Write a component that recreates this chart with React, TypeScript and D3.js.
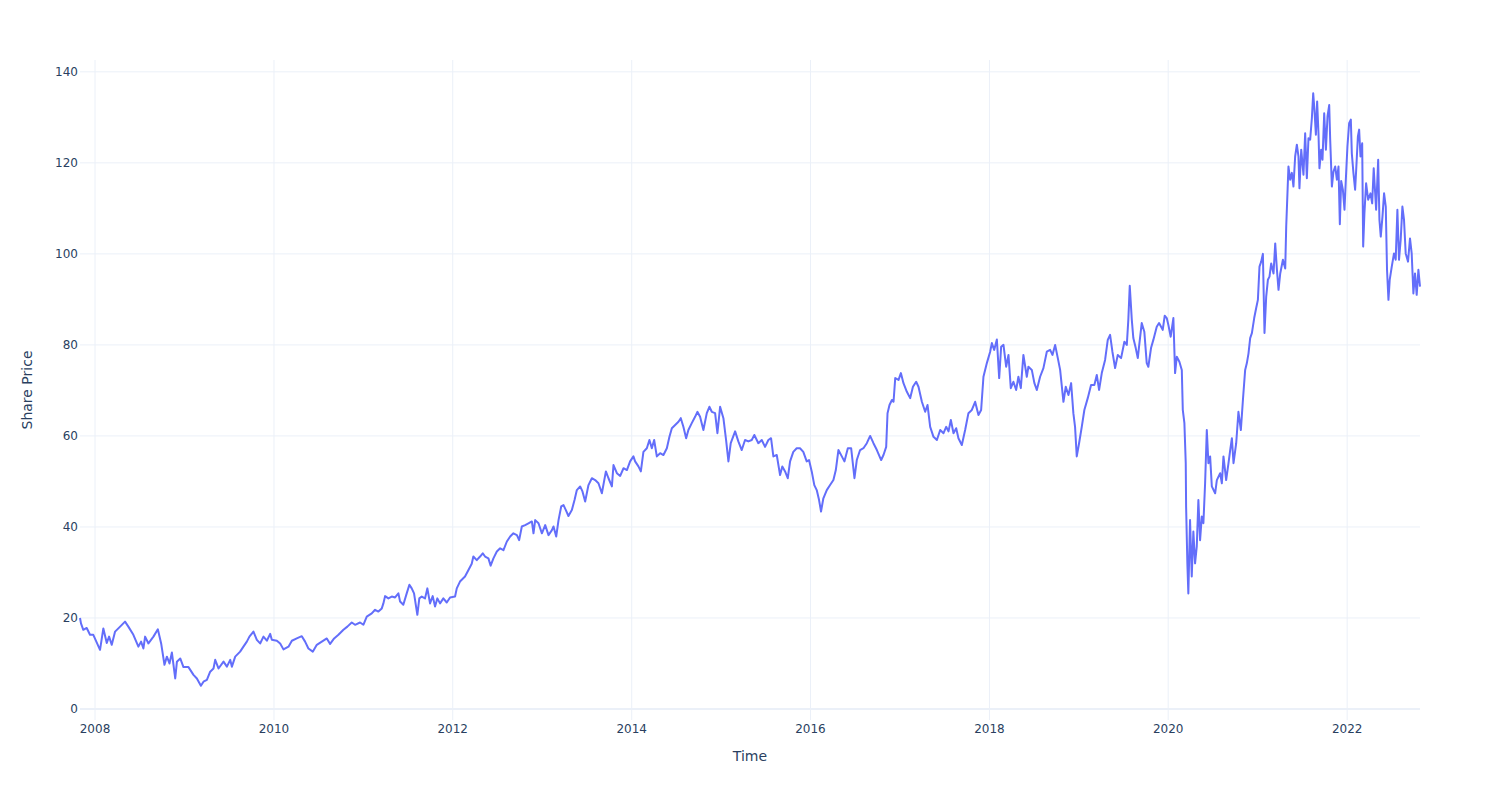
import React from 'react';
import * as d3 from 'd3';

// Time (decimal years)
const years: number[] = [
  2007.832, 2007.843, 2007.869, 2007.907, 2007.944, 2007.981, 2008.056, 2008.093, 2008.131, 2008.157,
  2008.187, 2008.224, 2008.280, 2008.335, 2008.372, 2008.428, 2008.484, 2008.514, 2008.540, 2008.559,
  2008.596, 2008.652, 2008.701, 2008.738, 2008.775, 2008.802, 2008.831, 2008.858, 2008.895, 2008.914,
  2008.951, 2008.987, 2009.043, 2009.099, 2009.137, 2009.182, 2009.211, 2009.249, 2009.286, 2009.323,
  2009.342, 2009.379, 2009.435, 2009.473, 2009.510, 2009.529, 2009.566, 2009.621, 2009.658, 2009.696,
  2009.725, 2009.770, 2009.808, 2009.845, 2009.882, 2009.920, 2009.957, 2009.976, 2010.032, 2010.069,
  2010.106, 2010.162, 2010.200, 2010.255, 2010.311, 2010.348, 2010.385, 2010.434, 2010.479, 2010.535,
  2010.591, 2010.628, 2010.673, 2010.721, 2010.777, 2010.821, 2010.870, 2010.907, 2010.963, 2011.000,
  2011.038, 2011.094, 2011.131, 2011.168, 2011.206, 2011.224, 2011.243, 2011.280, 2011.318, 2011.355,
  2011.392, 2011.411, 2011.447, 2011.485, 2011.515, 2011.541, 2011.567, 2011.604, 2011.626, 2011.653,
  2011.690, 2011.716, 2011.746, 2011.776, 2011.802, 2011.828, 2011.858, 2011.895, 2011.933, 2011.970,
  2012.026, 2012.045, 2012.081, 2012.137, 2012.174, 2012.212, 2012.230, 2012.268, 2012.305, 2012.335,
  2012.361, 2012.398, 2012.423, 2012.454, 2012.492, 2012.529, 2012.566, 2012.604, 2012.641, 2012.677,
  2012.716, 2012.741, 2012.771, 2012.808, 2012.845, 2012.883, 2012.901, 2012.920, 2012.957, 2012.995,
  2013.032, 2013.069, 2013.107, 2013.125, 2013.155, 2013.181, 2013.211, 2013.237, 2013.263, 2013.292,
  2013.330, 2013.360, 2013.386, 2013.423, 2013.449, 2013.479, 2013.516, 2013.554, 2013.591, 2013.628,
  2013.666, 2013.711, 2013.740, 2013.778, 2013.796, 2013.834, 2013.871, 2013.908, 2013.946, 2013.982,
  2014.019, 2014.038, 2014.075, 2014.102, 2014.131, 2014.169, 2014.198, 2014.225, 2014.251, 2014.281,
  2014.318, 2014.355, 2014.393, 2014.422, 2014.449, 2014.486, 2014.523, 2014.549, 2014.578, 2014.609,
  2014.634, 2014.672, 2014.709, 2014.735, 2014.765, 2014.802, 2014.840, 2014.869, 2014.896, 2014.933,
  2014.959, 2014.989, 2015.026, 2015.056, 2015.082, 2015.108, 2015.157, 2015.193, 2015.231, 2015.268,
  2015.305, 2015.343, 2015.372, 2015.417, 2015.455, 2015.492, 2015.529, 2015.559, 2015.585, 2015.623,
  2015.660, 2015.685, 2015.716, 2015.746, 2015.772, 2015.808, 2015.846, 2015.883, 2015.920, 2015.958,
  2015.984, 2016.014, 2016.043, 2016.070, 2016.096, 2016.118, 2016.144, 2016.182, 2016.219, 2016.256,
  2016.283, 2016.312, 2016.350, 2016.379, 2016.417, 2016.454, 2016.491, 2016.517, 2016.554, 2016.591,
  2016.629, 2016.666, 2016.703, 2016.741, 2016.789, 2016.815, 2016.845, 2016.860, 2016.882, 2016.909,
  2016.927, 2016.946, 2016.983, 2017.009, 2017.038, 2017.076, 2017.113, 2017.144, 2017.180, 2017.206,
  2017.244, 2017.281, 2017.307, 2017.337, 2017.374, 2017.412, 2017.449, 2017.486, 2017.516, 2017.542,
  2017.568, 2017.598, 2017.628, 2017.653, 2017.691, 2017.728, 2017.765, 2017.803, 2017.840, 2017.877,
  2017.907, 2017.933, 2017.971, 2018.008, 2018.027, 2018.053, 2018.083, 2018.109, 2018.131, 2018.157,
  2018.187, 2018.213, 2018.239, 2018.268, 2018.299, 2018.324, 2018.351, 2018.380, 2018.418, 2018.436,
  2018.474, 2018.503, 2018.530, 2018.567, 2018.604, 2018.642, 2018.679, 2018.705, 2018.735, 2018.765,
  2018.791, 2018.828, 2018.854, 2018.884, 2018.914, 2018.939, 2018.958, 2018.977, 2019.003, 2019.033,
  2019.062, 2019.100, 2019.137, 2019.174, 2019.201, 2019.227, 2019.257, 2019.294, 2019.324, 2019.350,
  2019.376, 2019.406, 2019.436, 2019.473, 2019.510, 2019.537, 2019.554, 2019.570, 2019.593, 2019.610,
  2019.637, 2019.660, 2019.674, 2019.704, 2019.733, 2019.760, 2019.778, 2019.808, 2019.834, 2019.872,
  2019.898, 2019.939, 2019.961, 2019.984, 2020.002, 2020.028, 2020.058, 2020.077, 2020.096, 2020.125,
  2020.152, 2020.163, 2020.181, 2020.196, 2020.200, 2020.214, 2020.225, 2020.244, 2020.263, 2020.281,
  2020.300, 2020.319, 2020.337, 2020.356, 2020.375, 2020.393, 2020.412, 2020.431, 2020.449, 2020.468,
  2020.487, 2020.524, 2020.543, 2020.580, 2020.599, 2020.617, 2020.647, 2020.673, 2020.692, 2020.711,
  2020.729, 2020.759, 2020.784, 2020.811, 2020.834, 2020.859, 2020.878, 2020.896, 2020.915, 2020.934,
  2020.960, 2020.982, 2021.001, 2021.019, 2021.038, 2021.057, 2021.075, 2021.094, 2021.113, 2021.131,
  2021.150, 2021.176, 2021.195, 2021.214, 2021.232, 2021.251, 2021.281, 2021.307, 2021.318, 2021.334,
  2021.343, 2021.362, 2021.381, 2021.399, 2021.418, 2021.437, 2021.455, 2021.466, 2021.486, 2021.511,
  2021.530, 2021.549, 2021.567, 2021.586, 2021.605, 2021.620, 2021.634, 2021.650, 2021.664, 2021.679,
  2021.690, 2021.709, 2021.724, 2021.743, 2021.762, 2021.780, 2021.799, 2021.810, 2021.829, 2021.847,
  2021.866, 2021.885, 2021.903, 2021.918, 2021.933, 2021.952, 2021.970, 2021.985, 2022.003, 2022.022,
  2022.041, 2022.052, 2022.070, 2022.089, 2022.101, 2022.120, 2022.134, 2022.149, 2022.168, 2022.179,
  2022.193, 2022.212, 2022.235, 2022.261, 2022.280, 2022.297, 2022.309, 2022.324, 2022.347, 2022.361,
  2022.376, 2022.395, 2022.413, 2022.432, 2022.446, 2022.462, 2022.476, 2022.499, 2022.524, 2022.543,
  2022.562, 2022.580, 2022.599, 2022.618, 2022.636, 2022.655, 2022.681, 2022.703, 2022.722, 2022.741,
  2022.759, 2022.778, 2022.797, 2022.815,
];

// Share price
const prices: number[] = [
  20.0, 18.8, 17.4, 17.8, 16.3, 16.3, 13.0, 17.7, 14.5, 15.9,
  14.1, 17.0, 18.1, 19.2, 18.1, 16.3, 13.7, 14.8, 13.3, 15.9,
  14.4, 15.9, 17.5, 14.4, 9.7, 11.5, 10.0, 12.4, 6.7, 10.4,
  11.1, 9.2, 9.2, 7.5, 6.7, 5.1, 6.0, 6.4, 8.2, 8.9,
  10.8, 8.9, 10.4, 9.3, 10.8, 9.3, 11.5, 12.6, 13.7, 14.8,
  15.9, 17.0, 15.2, 14.4, 15.9, 15.0, 16.5, 15.2, 15.0, 14.4,
  13.1, 13.7, 15.0, 15.5, 16.0, 14.8, 13.3, 12.6, 14.1, 14.8,
  15.5, 14.3, 15.5, 16.3, 17.4, 18.1, 19.0, 18.5, 19.0, 18.5,
  20.3, 21.0, 21.8, 21.4, 22.1, 23.2, 24.8, 24.3, 24.7, 24.5,
  25.4, 23.6, 22.9, 25.4, 27.3, 26.5, 25.4, 20.7, 24.3, 24.7,
  24.3, 26.5, 23.2, 24.8, 22.5, 24.3, 23.2, 24.3, 23.4, 24.5,
  24.7, 26.5, 28.0, 29.1, 30.5, 31.9, 33.5, 32.7, 33.5, 34.2,
  33.5, 33.1, 31.5, 33.1, 34.6, 35.3, 34.9, 36.8, 37.9, 38.6,
  38.2, 37.1, 40.1, 40.4, 40.8, 41.2, 38.6, 41.5, 40.8, 38.6,
  40.4, 38.2, 39.3, 40.1, 37.9, 41.5, 44.5, 44.8, 43.7, 42.4,
  43.7, 45.9, 48.1, 48.9, 47.8, 45.6, 49.2, 50.7, 50.3, 49.6,
  47.4, 52.2, 50.7, 48.9, 53.6, 51.8, 51.2, 52.9, 52.5, 54.4,
  55.5, 54.4, 53.3, 52.2, 56.5, 57.3, 59.1, 57.3, 59.1, 55.5,
  56.2, 55.8, 57.3, 59.8, 61.7, 62.4, 63.1, 63.9, 62.0, 59.5,
  61.3, 62.8, 64.2, 65.3, 64.2, 61.3, 65.0, 66.4, 65.3, 65.0,
  60.6, 66.4, 63.9, 59.1, 54.4, 58.4, 61.0, 58.8, 56.9, 59.1,
  58.8, 59.1, 60.2, 58.4, 59.1, 57.6, 59.1, 59.5, 55.5, 55.8,
  51.4, 53.3, 52.2, 50.7, 54.4, 56.5, 57.3, 57.3, 56.5, 54.4,
  54.7, 52.2, 49.2, 48.1, 45.9, 43.4, 46.3, 48.1, 49.2, 50.3,
  52.5, 56.9, 55.5, 54.4, 57.3, 57.3, 50.7, 54.7, 56.9, 57.3,
  58.4, 60.0, 58.4, 56.9, 54.7, 55.8, 57.6, 65.0, 66.8, 67.9,
  67.5, 72.7, 72.3, 73.8, 71.6, 69.7, 68.3, 70.8, 71.9, 70.8,
  67.5, 65.3, 66.8, 62.0, 59.8, 59.1, 61.3, 60.6, 62.0, 61.0,
  63.5, 60.6, 61.7, 59.5, 58.0, 61.3, 65.0, 65.7, 67.5, 64.6,
  65.7, 73.0, 76.0, 78.5, 80.4, 78.9, 81.2, 72.7, 79.6, 80.0,
  75.2, 77.8, 70.5, 71.9, 70.1, 73.0, 70.5, 77.8, 73.0, 75.2,
  74.5, 71.6, 70.1, 73.0, 74.9, 78.5, 78.9, 77.8, 80.0, 77.1,
  74.5, 67.5, 70.8, 69.0, 71.6, 65.0, 62.0, 55.5, 58.4, 62.0,
  65.7, 68.3, 71.2, 71.2, 73.4, 70.1, 73.8, 76.7, 81.1, 82.2,
  78.5, 74.9, 77.8, 77.1, 80.7, 80.0, 85.5, 93.0, 85.5, 81.5,
  79.3, 77.1, 79.6, 84.8, 82.9, 76.0, 75.2, 79.3, 81.1, 84.0,
  84.8, 83.3, 86.4, 85.9, 84.4, 81.8, 85.9, 73.8, 77.4, 76.3,
  74.5, 65.7, 62.8, 54.0, 44.5, 32.0, 25.4, 41.5, 29.1, 39.0,
  32.0, 35.7, 45.9, 37.1, 42.3, 40.8, 49.6, 61.3, 54.0, 55.5,
  48.9, 47.4, 50.3, 51.8, 49.6, 55.5, 50.3, 54.0, 56.9, 59.5,
  54.0, 58.4, 65.3, 61.3, 67.9, 74.5, 76.0, 78.1, 81.5, 82.6,
  85.9, 88.1, 89.9, 97.2, 98.3, 100.0, 82.6, 90.6, 94.3, 95.0,
  97.9, 95.7, 102.3, 96.5, 92.1, 95.7, 98.7, 96.8, 106.0, 114.4,
  119.2, 116.3, 117.8, 114.8, 121.4, 124.0, 121.4, 114.4, 122.9, 117.4,
  126.5, 116.6, 125.4, 125.1, 129.8, 135.3, 131.6, 126.2, 133.5, 126.5,
  118.8, 122.9, 120.7, 130.9, 122.9, 130.2, 132.7, 125.1, 114.8, 118.1,
  119.2, 116.3, 119.2, 106.5, 116.0, 114.1, 109.7, 116.3, 123.6, 128.7,
  129.5, 122.1, 117.8, 114.1, 118.5, 125.8, 127.3, 121.4, 124.3, 101.6,
  108.9, 115.5, 111.9, 113.3, 111.1, 118.8, 114.8, 109.7, 120.7, 107.5,
  103.8, 108.2, 113.3, 110.4, 96.5, 89.9, 94.3, 97.2, 100.1, 98.7,
  109.7, 98.7, 103.1, 110.4, 107.5, 100.1, 98.3, 103.4, 100.1, 91.3,
  95.7, 91.0, 96.5, 92.8,
];

const yTickValues: number[] = [0, 20, 40, 60, 80, 100, 120, 140];
const xTickYears: number[] = [2008, 2010, 2012, 2014, 2016, 2018, 2020, 2022];
const xTitle = 'Time';
const yTitle = 'Share Price';

function toDate(y: number): Date {
  const yr = Math.floor(y);
  const start = new Date(yr, 0, 1).getTime();
  const end = new Date(yr + 1, 0, 1).getTime();
  return new Date(start + (y - yr) * (end - start));
}

const FONT = '"DejaVu Sans", verdana, arial, sans-serif';
const TEXT = '#2a3f5f';
const GRID = '#EBF0F8';

export default function App() {
  const W = 1500;
  const H = 800;
  const m = { l: 80, r: 80, t: 60, b: 80 };

  const data = years.map((yv, i) => ({ date: toDate(yv), value: prices[i] }));
  const ext = d3.extent(data, (d) => d.date) as [Date, Date];
  const x = d3.scaleTime().domain(ext).range([m.l, W - m.r]);
  const y = d3.scaleLinear().domain([-2.42, 142.6]).range([H - m.b, m.t]);

  const line = d3
    .line<{ date: Date; value: number }>()
    .x((d) => x(d.date))
    .y((d) => y(d.value));

  const xTicks = xTickYears.map((yr) => new Date(yr, 0, 1));

  return (
    <svg
      width={W}
      height={H}
      style={{ position: 'absolute', left: 0, top: 0, background: '#fff' }}
      fontFamily={FONT}
    >
      <rect x={0} y={0} width={W} height={H} fill="#fff" />
      {xTicks.map((d, i) => (
        <line key={'vx' + i} x1={x(d)} x2={x(d)} y1={m.t} y2={H - m.b} stroke={GRID} strokeWidth={1} />
      ))}
      {yTickValues.map((v) =>
        v === 0 ? null : (
          <line key={'hy' + v} x1={m.l} x2={W - m.r} y1={y(v)} y2={y(v)} stroke={GRID} strokeWidth={1} />
        )
      )}
      <line x1={m.l} x2={W - m.r} y1={y(0)} y2={y(0)} stroke={GRID} strokeWidth={2} />

      <path
        d={line(data) || ''}
        fill="none"
        stroke="#636efa"
        strokeWidth={2}
        strokeLinejoin="round"
      />

      {yTickValues.map((v) => (
        <text
          key={'yl' + v}
          x={78}
          y={y(v)}
          dy="0.35em"
          textAnchor="end"
          fontSize={12}
          fill={TEXT}
        >
          {v}
        </text>
      ))}
      {xTicks.map((d, i) => (
        <text key={'xl' + i} x={x(d)} y={733} textAnchor="middle" fontSize={12} fill={TEXT}>
          {d3.timeFormat('%Y')(d)}
        </text>
      ))}

      <text x={(m.l + W - m.r) / 2} y={761} textAnchor="middle" fontSize={14} fill={TEXT}>
        {xTitle}
      </text>
      <text
        transform={`translate(32,${(m.t + H - m.b) / 2}) rotate(-90)`}
        textAnchor="middle"
        fontSize={14}
        fill={TEXT}
      >
        {yTitle}
      </text>
    </svg>
  );
}
